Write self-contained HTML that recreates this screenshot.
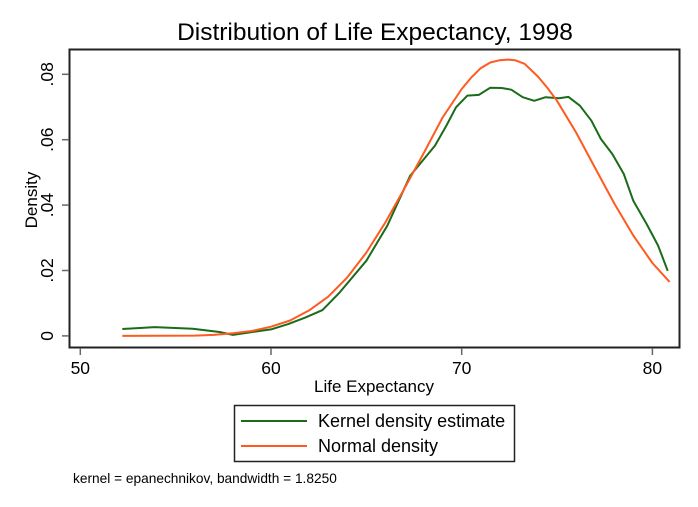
<!DOCTYPE html>
<html><head><meta charset="utf-8"><style>
html,body{margin:0;padding:0;background:#fff;}
svg{display:block;font-family:"Liberation Sans",Arial,sans-serif;}
</style></head><body>
<svg id="chart" width="698" height="507" viewBox="0 0 698 507">
<rect x="0" y="0" width="698" height="507" fill="#fff"/>
<text x="375" y="40" font-size="24.5" text-anchor="middle" fill="#000">Distribution of Life Expectancy, 1998</text>
<rect x="69.5" y="49.5" width="610" height="298" fill="none" stroke="#222" stroke-width="2"/>
<g id="xaxis"></g>
<g id="yaxis"></g>
<text x="374" y="392" font-size="17" text-anchor="middle" fill="#000">Life Expectancy</text>
<text transform="translate(37,200) rotate(-90)" font-size="17" text-anchor="middle" fill="#000">Density</text>
<g id="series"></g>
<g>
<rect x="234.5" y="405.5" width="280" height="56" fill="#fff" stroke="#222" stroke-width="1.5"/>
<line x1="241" y1="421" x2="307" y2="421" stroke="#1a6b1a" stroke-width="2"/>
<text x="318" y="427" font-size="18" fill="#000">Kernel density estimate</text>
<line x1="241" y1="446" x2="307" y2="446" stroke="#ff5a1f" stroke-width="2"/>
<text x="318" y="452" font-size="18" fill="#000">Normal density</text>
</g>
<text x="73" y="483" font-size="13.7" fill="#000">kernel = epanechnikov, bandwidth = 1.8250</text>
</svg>
<script>
const xTicks = [50, 60, 70, 80];
const yTicks = [0, 0.02, 0.04, 0.06, 0.08];
const yTickLabels = ["0", ".02", ".04", ".06", ".08"];
const kernelX = [52.2,53.9,55.9,57.3,58.0,58.8,60.0,60.9,61.8,62.7,63.6,65.0,66.1,67.3,68.6,69.2,69.7,70.3,70.9,71.5,72.1,72.6,73.2,73.8,74.4,75.1,75.6,76.2,76.8,77.3,77.9,78.5,79.0,79.7,80.3,80.8];
const kernelY = [.0021,.0027,.0022,.0012,.0003,.0010,.0020,.0036,.0056,.0079,.0133,.0230,.0337,.0490,.0582,.0643,.0699,.0735,.0737,.0759,.0758,.0753,.0730,.0719,.0730,.0727,.0731,.0704,.0658,.0602,.0556,.0495,.0413,.0342,.0276,.0199];
const normalX = [52.2,54,56,57,58,59,60,61,62,63,64,65,66,67,68,69,70,70.5,71,71.5,72,72.4,72.8,73.3,74,74.5,75,76,77,78,79,80,80.9];
const normalY = [0,.00002,.0001,.0003,.0008,.0015,.0028,.0047,.0078,.0120,.0179,.0255,.0347,.0451,.0558,.0668,.0755,.0790,.0819,.0836,.0843,.0845,.0843,.0832,.0793,.0758,.0719,.0622,.0513,.0405,.0307,.0223,.0165];

const NS = "http://www.w3.org/2000/svg";
function xs(v){ return 80.3 + (v - 50) * 19.07; }
function ys(v){ return 335.9 - v * 3270; }
function mk(tag, attrs, parent){
  const e = document.createElementNS(NS, tag);
  for (const k in attrs) e.setAttribute(k, attrs[k]);
  parent.appendChild(e); return e;
}
const xg = document.getElementById('xaxis');
xTicks.forEach(t => {
  const l = mk('line', {x1: xs(t), x2: xs(t), y1: 348, y2: 355, stroke: '#666', 'stroke-width': 1.5}, xg);
  
  
  const tx = mk('text', {x: xs(t), y: 374, 'font-size': 17.5, 'text-anchor': 'middle', fill: '#000'}, xg);
  tx.textContent = String(t);
  
  
});
const yg = document.getElementById('yaxis');
yTicks.forEach((t, i) => {
  const l = mk('line', {x1: 62, x2: 69, y1: ys(t), y2: ys(t), stroke: '#666', 'stroke-width': 1.5}, yg);
  
  
  const tx = mk('text', {transform: 'translate(53,' + ys(t) + ') rotate(-90)', 'font-size': 17.5, 'text-anchor': 'middle', fill: '#000'}, yg);
  tx.textContent = yTickLabels[i];
  
  
});
const sg = document.getElementById('series');
function pathFrom(X, Y){ return X.map((x, i) => (i ? 'L' : 'M') + xs(x).toFixed(1) + ',' + ys(Y[i]).toFixed(1)).join(' '); }
const pk = mk('path', {d: pathFrom(kernelX, kernelY), fill: 'none', stroke: '#1a6b1a', 'stroke-width': 2, 'stroke-linejoin': 'round'}, sg);


const pn = mk('path', {d: pathFrom(normalX, normalY), fill: 'none', stroke: '#ff5a1f', 'stroke-width': 2, 'stroke-linejoin': 'round'}, sg);


</script>
</body></html>
